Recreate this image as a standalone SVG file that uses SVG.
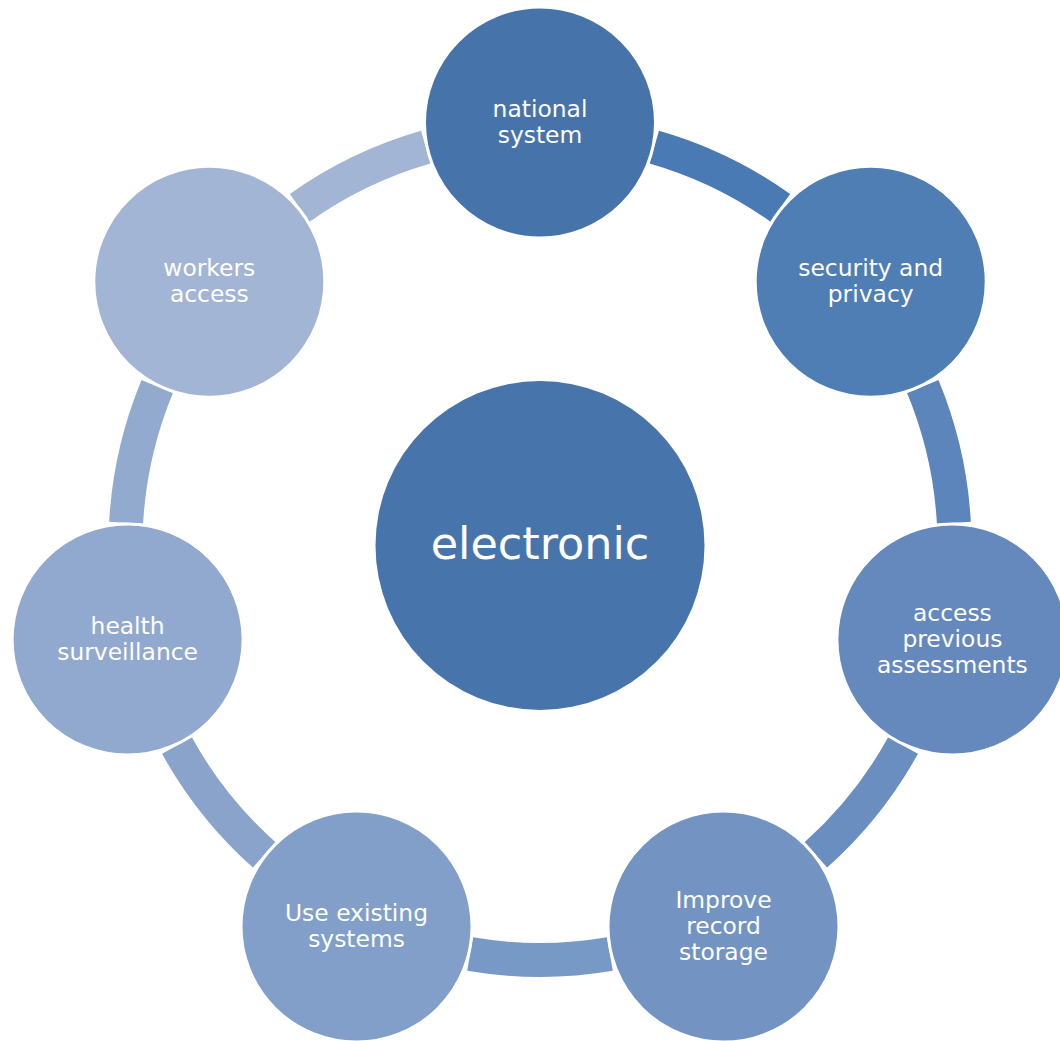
<svg xmlns="http://www.w3.org/2000/svg" width="1060" height="1041" viewBox="0 0 1060 1041">
<style>
.arc{fill:none;stroke-width:34;stroke-linecap:butt}
.node{stroke:#ffffff;stroke-width:3}
.lbl{font-family:"DejaVu Sans","Verdana","Liberation Sans",sans-serif;font-size:23.4px;fill:#ffffff;text-anchor:middle}
.big{font-family:"DejaVu Sans","Verdana","Liberation Sans",sans-serif;font-size:44.5px;fill:#ffffff;text-anchor:middle}
</style>
<rect width="1060" height="1041" fill="#ffffff"/>
<g id="connectors">
<path class="arc" stroke="#4A7AB4" d="M654.25 147.06 A414.5 414.5 0 0 1 780.29 207.78"/>
<path class="arc" stroke="#5B85BB" d="M922.76 386.42 A414.5 414.5 0 0 1 953.88 522.80"/>
<path class="arc" stroke="#6B8EC0" d="M903.05 745.57 A414.5 414.5 0 0 1 815.83 854.90"/>
<path class="arc" stroke="#7699C5" d="M609.91 954.06 A414.5 414.5 0 0 1 470.09 954.06"/>
<path class="arc" stroke="#8AA3CB" d="M264.17 854.90 A414.5 414.5 0 0 1 176.95 745.57"/>
<path class="arc" stroke="#93AACF" d="M126.12 522.80 A414.5 414.5 0 0 1 157.24 386.42"/>
<path class="arc" stroke="#A3B5D5" d="M299.71 207.78 A414.5 414.5 0 0 1 425.75 147.06"/>
</g>
<g id="center">
<circle cx="540" cy="545.5" r="164.5" fill="#4775AB"/>
<text class="big" x="540" y="559">electronic</text>
</g>
<g id="node-national-system">
<circle class="node" cx="540" cy="122.5" r="115.5" fill="#4674AA"/>
<text class="lbl" x="540" y="116.5">national</text>
<text class="lbl" x="540" y="142.5">system</text>
</g>
<g id="node-security-and-privacy">
<circle class="node" cx="870.7" cy="281.8" r="115.5" fill="#4F7EB5"/>
<text class="lbl" x="870.7" y="275.8">security and</text>
<text class="lbl" x="870.7" y="301.8">privacy</text>
</g>
<g id="node-access-previous-assessments">
<circle class="node" cx="952.4" cy="639.6" r="115.5" fill="#6689BD"/>
<text class="lbl" x="952.4" y="620.6">access</text>
<text class="lbl" x="952.4" y="646.6">previous</text>
<text class="lbl" x="952.4" y="672.6">assessments</text>
</g>
<g id="node-improve-record-storage">
<circle class="node" cx="723.5" cy="926.6" r="115.5" fill="#7393C3"/>
<text class="lbl" x="723.5" y="907.6">Improve</text>
<text class="lbl" x="723.5" y="933.6">record</text>
<text class="lbl" x="723.5" y="959.6">storage</text>
</g>
<g id="node-use-existing-systems">
<circle class="node" cx="356.5" cy="926.6" r="115.5" fill="#819FC9"/>
<text class="lbl" x="356.5" y="920.6">Use existing</text>
<text class="lbl" x="356.5" y="946.6">systems</text>
</g>
<g id="node-health-surveillance">
<circle class="node" cx="127.6" cy="639.6" r="115.5" fill="#91A9CE"/>
<text class="lbl" x="127.6" y="633.6">health</text>
<text class="lbl" x="127.6" y="659.6">surveillance</text>
</g>
<g id="node-workers-access">
<circle class="node" cx="209.3" cy="281.8" r="115.5" fill="#A3B5D5"/>
<text class="lbl" x="209.3" y="275.8">workers</text>
<text class="lbl" x="209.3" y="301.8">access</text>
</g>
</svg>
